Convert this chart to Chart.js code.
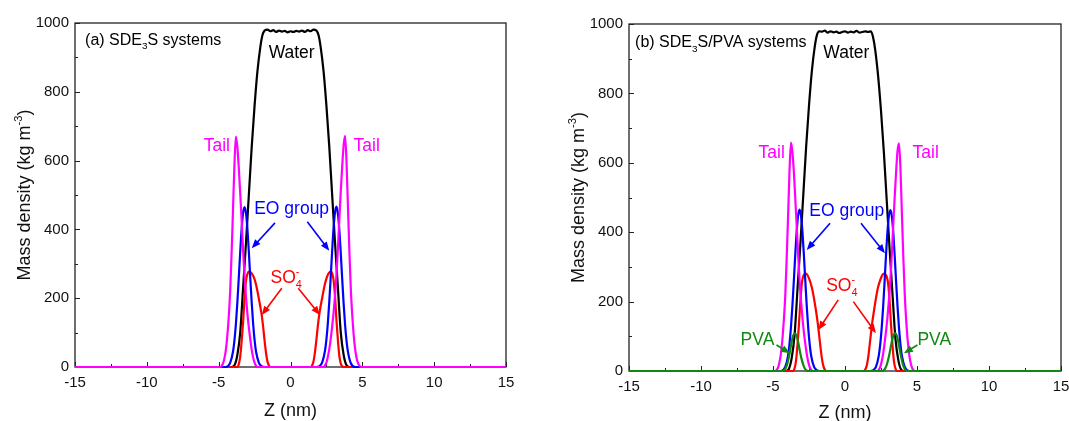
<!DOCTYPE html>
<html>
<head>
<meta charset="utf-8">
<script src="https://cdn.jsdelivr.net/npm/chart.js@4.4.1/dist/chart.umd.min.js"></script>
<style>
  html, body { margin: 0; padding: 0; background: #fff; }
  #wrap { position: relative; width: 1069px; height: 421px; overflow: hidden; }
  canvas { position: absolute; top: 0; }
</style>
</head>
<body>
<div id="wrap">
  <canvas id="chartA" width="535" height="421" style="left:0"></canvas>
  <canvas id="chartB" width="560" height="421" style="left:535px"></canvas>
</div>
<script>
// ── Axis ticks ─────────────────────────────────────────
const zTicks = [-15, -10, -5, 0, 5, 10, 15];
const densityTicks = [0, 200, 400, 600, 800, 1000];

// ── Panel (a): SDE3S systems ───────────────────────────
const waterAZ = [-15, -4.1, -3.9, -3.7, -3.5, -3.3, -3.1, -2.9, -2.7, -2.5, -2.3, -2.1, -1.95,
  -1.8, -1.6, -1.4, -1.2, -1.0, -0.8, -0.6, -0.4, -0.2, 0, 0.2, 0.4, 0.6, 0.8, 1.0, 1.2, 1.4, 1.6, 1.8,
  1.95, 2.1, 2.3, 2.5, 2.7, 2.9, 3.1, 3.3, 3.5, 3.7, 3.9, 4.1, 15];
const waterA = [0, 0, 5, 35, 100, 230, 360, 500, 640, 760, 860, 930, 965,
  978, 981, 976, 979, 974, 978, 975, 977, 973, 976, 974, 977, 975, 978, 974, 979, 976, 981, 978,
  965, 930, 860, 760, 640, 500, 360, 230, 100, 35, 5, 0, 0];

const tailAZ = [-15, -4.9, -4.8, -4.7, -4.6, -4.5, -4.4, -4.3, -4.2, -4.1, -4.0, -3.9, -3.8, -3.7, -3.6,
  -3.5, -3.4, -3.3, -3.2, -3.1, -3.0, -2.9, -2.8, -2.7, -2.6, -2.5, -2.4, -2.3,
  2.3, 2.4, 2.5, 2.6, 2.7, 2.8, 2.9, 3.0, 3.1, 3.2, 3.3, 3.4, 3.5, 3.6, 3.7, 3.8, 3.9, 4.0,
  4.1, 4.2, 4.3, 4.4, 4.5, 4.6, 4.7, 4.8, 4.9, 15];
const tailA = [0, 0, 3, 10, 25, 50, 90, 145, 220, 330, 460, 590, 670, 640, 580,
  505, 425, 340, 265, 205, 155, 115, 80, 50, 28, 12, 4, 0,
  0, 5, 13, 30, 52, 82, 118, 158, 208, 268, 345, 430, 512, 585, 645, 672, 595, 465,
  335, 225, 150, 92, 52, 26, 11, 4, 0, 0];

const eoAZ = [-15, -4.5, -4.2, -4.0, -3.9, -3.8, -3.7, -3.6, -3.5, -3.4, -3.3, -3.2, -3.1, -3.0, -2.9,
  -2.8, -2.7, -2.6, -2.5, -2.4, -2.2, -2.0, -1.8,
  1.8, 2.0, 2.2, 2.4, 2.5, 2.6, 2.7, 2.8, 2.9, 3.0, 3.1, 3.2, 3.3, 3.4, 3.5, 3.6, 3.7, 3.8, 3.9, 4.0,
  4.2, 4.5, 15];
const eoA = [0, 0, 12, 45, 78, 125, 187, 259, 335, 402, 448, 465, 448, 402, 335,
  259, 187, 125, 78, 45, 12, 2, 0,
  0, 2, 13, 47, 80, 128, 190, 262, 338, 405, 450, 466, 446, 398, 330, 255, 183, 122, 76, 44,
  11, 0, 0];

const so4AZ = [-15, -3.7, -3.6, -3.5, -3.4, -3.3, -3.2, -3.1, -3.0, -2.9, -2.8, -2.7, -2.6, -2.5, -2.4,
  -2.3, -2.2, -2.1, -2.0, -1.9, -1.8, -1.7, -1.6, -1.5, -1.4,
  1.4, 1.5, 1.6, 1.7, 1.8, 1.9, 2.0, 2.1, 2.2, 2.3, 2.4, 2.5, 2.6, 2.7, 2.8, 2.9, 3.0, 3.1, 3.2, 3.3,
  3.4, 3.5, 3.6, 3.7, 15];
const so4A = [0, 0, 8, 30, 75, 130, 200, 250, 270, 277, 276, 272, 265, 255, 240,
  220, 198, 175, 150, 115, 75, 40, 15, 4, 0,
  0, 4, 16, 42, 78, 118, 152, 178, 200, 222, 242, 257, 268, 275, 277, 272, 252, 205, 135, 78,
  32, 10, 2, 0, 0];

// ── Panel (b): SDE3S/PVA systems ───────────────────────
const waterBZ = waterAZ;
const waterB = [0, 0, 6, 38, 105, 235, 365, 505, 645, 765, 865, 935, 968,
  979, 978, 981, 975, 979, 976, 978, 974, 977, 979, 975, 978, 976, 980, 975, 977, 979, 977, 979,
  962, 925, 850, 750, 630, 490, 350, 220, 95, 32, 4, 0, 0];

const tailBZ = [-15, -4.85, -4.75, -4.65, -4.55, -4.45, -4.35, -4.25, -4.15, -4.05, -3.95, -3.85, -3.75,
  -3.65, -3.55, -3.45, -3.35, -3.25, -3.15, -3.05, -2.95, -2.85, -2.75, -2.65, -2.55, -2.45, -2.35, -2.25,
  2.25, 2.35, 2.45, 2.55, 2.65, 2.75, 2.85, 2.95, 3.05, 3.15, 3.25, 3.35, 3.45, 3.55, 3.65, 3.75,
  3.85, 3.95, 4.05, 4.15, 4.25, 4.35, 4.45, 4.55, 4.65, 4.75, 4.85, 15];
const tailB = [0, 0, 3, 10, 25, 50, 90, 145, 215, 325, 450, 580, 658,
  630, 572, 495, 415, 332, 258, 200, 150, 110, 76, 48, 26, 11, 4, 0,
  0, 4, 12, 28, 50, 80, 115, 155, 205, 262, 335, 420, 500, 575, 635, 656,
  585, 455, 328, 220, 145, 90, 50, 25, 10, 3, 0, 0];

const eoBZ = [-15, -4.45, -4.15, -3.95, -3.85, -3.75, -3.65, -3.55, -3.45, -3.35, -3.25, -3.15, -3.05,
  -2.95, -2.85, -2.75, -2.65, -2.55, -2.45, -2.35, -2.15, -1.95, -1.75,
  1.75, 1.95, 2.15, 2.35, 2.45, 2.55, 2.65, 2.75, 2.85, 2.95, 3.05, 3.15, 3.25, 3.35, 3.45, 3.55,
  3.65, 3.75, 3.85, 3.95, 4.15, 4.45, 15];
const eoB = [0, 0, 12, 45, 80, 128, 190, 262, 338, 405, 450, 465, 446,
  398, 330, 255, 183, 122, 76, 44, 12, 2, 0,
  0, 2, 12, 45, 78, 125, 186, 258, 335, 402, 448, 464, 447, 400, 332, 257,
  185, 124, 77, 44, 12, 0, 0];

const so4BZ = [-15, -3.6, -3.5, -3.4, -3.3, -3.2, -3.1, -3.0, -2.9, -2.8, -2.7, -2.6, -2.5, -2.4, -2.3,
  -2.2, -2.1, -2.0, -1.9, -1.8, -1.7, -1.6, -1.5, -1.4, -1.3,
  1.3, 1.4, 1.5, 1.6, 1.7, 1.8, 1.9, 2.0, 2.1, 2.2, 2.3, 2.4, 2.5, 2.6, 2.7, 2.8, 2.9, 3.0, 3.1,
  3.2, 3.3, 3.4, 3.5, 3.6, 15];
const so4B = [0, 0, 8, 30, 75, 132, 200, 252, 273, 280, 281, 276, 267, 255, 240,
  220, 196, 170, 140, 105, 68, 35, 14, 4, 0,
  0, 4, 14, 36, 70, 108, 142, 170, 197, 222, 242, 256, 268, 277, 281, 279, 272, 250, 200,
  130, 74, 28, 8, 0, 0];

const pvaBZ = [-15, -4.3, -4.2, -4.1, -4.0, -3.9, -3.8, -3.7, -3.6, -3.5, -3.4, -3.3, -3.2, -3.1, -3.0,
  -2.9, -2.8, -2.7, -2.6,
  2.6, 2.7, 2.8, 2.9, 3.0, 3.1, 3.2, 3.3, 3.4, 3.5, 3.6, 3.7, 3.8, 3.9, 4.0, 4.1, 4.2, 4.3, 15];
const pvaB = [0, 0, 3, 10, 22, 40, 62, 85, 102, 108, 105, 92, 72, 50, 32,
  18, 8, 3, 0,
  0, 3, 8, 18, 33, 52, 74, 94, 106, 109, 101, 84, 62, 40, 22, 10, 3, 0, 0];

// ── Annotations (data coordinates) ─────────────────────
const labelsA = [
  { z: -14.3, v: 953, parts: [{ t: '(a) SDE', sub: '3' }, { t: 'S systems' }], color: '#000', size: 16, align: 'left' },
  { z: 0.08, v: 917, parts: [{ t: 'Water' }], color: '#000' },
  { z: -5.13, v: 645, parts: [{ t: 'Tail' }], color: '#ff00ff' },
  { z: 5.3, v: 645, parts: [{ t: 'Tail' }], color: '#ff00ff' },
  { z: 0.08, v: 462, parts: [{ t: 'EO group' }], color: '#0000ff' },
  { z: -0.3, v: 262, parts: [{ t: 'SO', sub: '4', sup: '-' }], color: '#ff0000' }
];
const arrowsA = [
  { from: [-1.08, 419], to: [-2.7, 345], color: '#0000ff' },
  { from: [1.17, 422], to: [2.7, 338], color: '#0000ff' },
  { from: [-0.61, 229], to: [-2.0, 151], color: '#ff0000' },
  { from: [0.54, 229], to: [2.05, 151], color: '#ff0000' }
];
const labelsB = [
  { z: -14.58, v: 949, parts: [{ t: '(b) SDE', sub: '3' }, { t: 'S/PVA systems' }], color: '#000', size: 16, align: 'left' },
  { z: 0.09, v: 920, parts: [{ t: 'Water' }], color: '#000' },
  { z: -5.09, v: 632, parts: [{ t: 'Tail' }], color: '#ff00ff' },
  { z: 5.6, v: 632, parts: [{ t: 'Tail' }], color: '#ff00ff' },
  { z: 0.12, v: 464, parts: [{ t: 'EO group' }], color: '#0000ff' },
  { z: -0.22, v: 248, parts: [{ t: 'SO', sub: '4', sup: '-' }], color: '#ff0000' },
  { z: -6.08, v: 94, parts: [{ t: 'PVA' }], color: '#118811' },
  { z: 6.2, v: 94, parts: [{ t: 'PVA' }], color: '#118811' }
];
const arrowsB = [
  { from: [-1.04, 426], to: [-2.66, 349], color: '#0000ff' },
  { from: [1.11, 426], to: [2.78, 339], color: '#0000ff' },
  { from: [-0.47, 205], to: [-1.85, 118], color: '#ff0000' },
  { from: [0.58, 200], to: [2.15, 109], color: '#ff0000' },
  { from: [-4.76, 75], to: [-3.82, 51], color: '#118811' },
  { from: [5.03, 75], to: [4.09, 51], color: '#118811' }
];

const FONT = "'Liberation Sans', Arial, sans-serif";

function pts(zs, vs) {
  return zs.map((z, i) => ({ x: z, y: vs[i] }));
}

function series(label, zs, vs, color) {
  return {
    label,
    data: pts(zs, vs),
    borderColor: color,
    backgroundColor: color,
    borderWidth: 2.2,
    pointRadius: 0,
    showLine: true,
    fill: false,
    cubicInterpolationMode: 'monotone',
    clip: false
  };
}

// rich text: parts [{t, sub, sup}], y is vertical middle
function richWidth(ctx, parts, size) {
  let w = 0;
  parts.forEach(p => {
    ctx.font = size + 'px ' + FONT;
    w += ctx.measureText(p.t || '').width;
    ctx.font = (size * 0.62) + 'px ' + FONT;
    const ws = p.sub ? ctx.measureText(p.sub).width : 0;
    const wp = p.sup ? ctx.measureText(p.sup).width : 0;
    w += Math.max(ws, wp);
  });
  return w;
}

function drawRich(ctx, parts, x, y, size, color, align) {
  const w = richWidth(ctx, parts, size);
  let cx = align === 'left' ? x : x - w / 2;
  const base = y + size * 0.35;
  ctx.fillStyle = color;
  ctx.textBaseline = 'alphabetic';
  ctx.textAlign = 'left';
  parts.forEach(p => {
    ctx.font = size + 'px ' + FONT;
    if (p.t) { ctx.fillText(p.t, cx, base); cx += ctx.measureText(p.t).width; }
    ctx.font = (size * 0.62) + 'px ' + FONT;
    let adv = 0;
    if (p.sub) { ctx.fillText(p.sub, cx, base + size * 0.28); adv = ctx.measureText(p.sub).width; }
    if (p.sup) { ctx.fillText(p.sup, cx, base - size * 0.45); adv = Math.max(adv, ctx.measureText(p.sup).width); }
    cx += adv;
  });
  return w;
}

function arrow(ctx, x1, y1, x2, y2, color) {
  const ang = Math.atan2(y2 - y1, x2 - x1);
  const hl = 9, hw = 3.6;
  ctx.strokeStyle = color;
  ctx.fillStyle = color;
  ctx.lineWidth = 1.6;
  ctx.beginPath();
  ctx.moveTo(x1, y1);
  ctx.lineTo(x2 - Math.cos(ang) * hl * 0.8, y2 - Math.sin(ang) * hl * 0.8);
  ctx.stroke();
  ctx.beginPath();
  ctx.moveTo(x2, y2);
  ctx.lineTo(x2 - Math.cos(ang) * hl - Math.sin(ang) * hw, y2 - Math.sin(ang) * hl + Math.cos(ang) * hw);
  ctx.lineTo(x2 - Math.cos(ang) * hl + Math.sin(ang) * hw, y2 - Math.sin(ang) * hl - Math.cos(ang) * hw);
  ctx.closePath();
  ctx.fill();
}

const paperPlugin = {
  id: 'paper',
  beforeDatasetsDraw(chart, args, o) {
    const { ctx, chartArea: a, scales: { x, y } } = chart;
    ctx.save();
    ctx.strokeStyle = '#222';
    ctx.lineWidth = 1.3;
    ctx.strokeRect(a.left, a.top, a.right - a.left, a.bottom - a.top);
    ctx.beginPath();
    ctx.lineWidth = 1;
    const xt = x.ticks.map(t => t.value);
    xt.forEach((v, i) => {
      const px = Math.round(x.getPixelForValue(v)) + 0.5;
      ctx.moveTo(px, a.bottom); ctx.lineTo(px, a.bottom - 5);
      if (i < xt.length - 1) {
        const m = Math.round(x.getPixelForValue((v + xt[i + 1]) / 2)) + 0.5;
        ctx.moveTo(m, a.bottom); ctx.lineTo(m, a.bottom - 3);
      }
    });
    const yt = y.ticks.map(t => t.value);
    yt.forEach((v, i) => {
      const py = Math.round(y.getPixelForValue(v)) + 0.5;
      ctx.moveTo(a.left, py); ctx.lineTo(a.left + 5, py);
      if (i < yt.length - 1) {
        const m = Math.round(y.getPixelForValue((v + yt[i + 1]) / 2)) + 0.5;
        ctx.moveTo(a.left, m); ctx.lineTo(a.left + 3, m);
      }
    });
    ctx.stroke();
    ctx.restore();
  },
  afterDatasetsDraw(chart, args, o) {
    const { ctx, scales: { x, y } } = chart;
    ctx.save();
    (o.arrows || []).forEach(ar => {
      arrow(ctx, x.getPixelForValue(ar.from[0]), y.getPixelForValue(ar.from[1]),
        x.getPixelForValue(ar.to[0]), y.getPixelForValue(ar.to[1]), ar.color);
    });
    (o.labels || []).forEach(l => {
      drawRich(ctx, l.parts, x.getPixelForValue(l.z), y.getPixelForValue(l.v), l.size || 17.5, l.color, l.align || 'center');
    });
    ctx.restore();
  },
  afterDraw(chart, args, o) {
    const { ctx, chartArea: a } = chart;
    ctx.save();
    drawRich(ctx, [{ t: 'Z (nm)' }], (a.left + a.right) / 2, o.xTitleY, 18, '#111', 'center');
    ctx.translate(o.yTitleX, (a.top + a.bottom) / 2);
    ctx.rotate(-Math.PI / 2);
    drawRich(ctx, [{ t: 'Mass density (kg m', sup: '-3' }, { t: ')' }], 0, 0, 18, '#111', 'center');
    ctx.restore();
  }
};

function makeChart(id, datasets, geo, labels, arrows) {
  return new Chart(document.getElementById(id), {
    type: 'scatter',
    data: { datasets },
    plugins: [paperPlugin],
    options: {
      responsive: false,
      animation: false,
      layout: { padding: { top: geo.top, right: geo.right, left: 0, bottom: 0 } },
      plugins: {
        legend: { display: false },
        tooltip: { enabled: false },
        paper: { labels, arrows, xTitleY: geo.xTitleY, yTitleX: geo.yTitleX }
      },
      scales: {
        x: {
          type: 'linear',
          min: -15, max: 15,
          afterBuildTicks: s => { s.ticks = zTicks.map(v => ({ value: v })); },
          afterFit: s => { s.height = geo.xAxisH; },
          grid: { display: false, drawTicks: false },
          border: { display: false },
          ticks: { padding: 7, color: '#111', font: { family: FONT, size: 15 }, callback: v => String(v) }
        },
        y: {
          type: 'linear',
          min: 0, max: 1000,
          afterBuildTicks: s => { s.ticks = densityTicks.map(v => ({ value: v })); },
          afterFit: s => { s.width = geo.yAxisW; },
          grid: { display: false, drawTicks: false },
          border: { display: false },
          ticks: { padding: 6, color: '#111', font: { family: FONT, size: 15 }, callback: v => String(v) }
        }
      }
    }
  });
}

makeChart('chartA', [
  series('Tail', tailAZ, tailA, '#ff00ff'),
  series('EO group', eoAZ, eoA, '#0000ff'),
  series('SO4-', so4AZ, so4A, '#ff0000'),
  series('Water', waterAZ, waterA, '#000000')
], { top: 23, right: 29, xAxisH: 54, yAxisW: 75, xTitleY: 410, yTitleX: 24 }, labelsA, arrowsA);

makeChart('chartB', [
  series('PVA', pvaBZ, pvaB, '#118811'),
  series('Tail', tailBZ, tailB, '#ff00ff'),
  series('EO group', eoBZ, eoB, '#0000ff'),
  series('SO4-', so4BZ, so4B, '#ff0000'),
  series('Water', waterBZ, waterB, '#000000')
], { top: 24, right: 34, xAxisH: 50, yAxisW: 94, xTitleY: 412, yTitleX: 43 }, labelsB, arrowsB);
</script>
</body>
</html>
